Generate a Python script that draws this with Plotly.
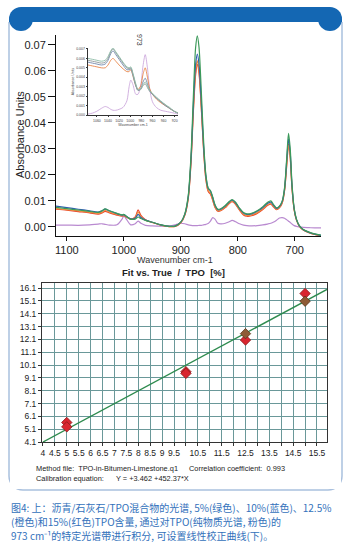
import plotly.graph_objects as go

W, H = 354, 556

# ---------------- DATA ----------------
# Main spectrum (wavenumber cm-1, absorbance)
wavenumber = [1119, 1100, 1080, 1060, 1045, 1038, 1033, 1025, 1012, 1003, 1000, 995, 988, 980, 975, 970,
              962, 950, 935, 920, 910, 900, 893, 887, 882, 878, 874, 871, 868, 864, 860, 856, 852, 848,
              844, 840, 835, 830, 822, 815, 810, 804, 797, 790, 784, 776, 766, 756, 748, 742, 737, 732,
              727, 722, 718, 714, 711, 708, 705, 701, 697, 692, 685, 675, 665, 654]

abs_5pct_green = [0.0075, 0.0070, 0.0065, 0.0060, 0.0056, 0.0062, 0.0069, 0.0062, 0.0052, 0.0046, 0.0048, 0.0040,
                  0.0030, 0.0030, 0.0038, 0.0032, 0.0025, 0.0018, 0.0008, 0.0002, 0.0003, 0.0018, 0.0050, 0.0120,
                  0.0280, 0.0500, 0.0690, 0.0735, 0.0690, 0.0520, 0.0330, 0.0200, 0.0150, 0.0140, 0.0115, 0.0085,
                  0.0068, 0.0070, 0.0082, 0.0098, 0.0105, 0.0095, 0.0072, 0.0055, 0.0050, 0.0052, 0.0062, 0.0078,
                  0.0094, 0.0100, 0.0085, 0.0073, 0.0080, 0.0100, 0.0150, 0.0270, 0.0360, 0.0300, 0.0170, 0.0070,
                  0.0030, 0.0005, -0.0010, -0.0020, -0.0027, -0.0032]

abs_10pct_blue = [0.0080, 0.0074, 0.0068, 0.0062, 0.0057, 0.0062, 0.0068, 0.0061, 0.0051, 0.0045, 0.0047, 0.0040,
                  0.0031, 0.0033, 0.0048, 0.0036, 0.0026, 0.0018, 0.0008, 0.0002, 0.0003, 0.0018, 0.0048, 0.0115,
                  0.0265, 0.0465, 0.0625, 0.0665, 0.0625, 0.0480, 0.0310, 0.0195, 0.0148, 0.0138, 0.0112, 0.0083,
                  0.0066, 0.0068, 0.0080, 0.0096, 0.0103, 0.0093, 0.0070, 0.0053, 0.0048, 0.0050, 0.0060, 0.0075,
                  0.0090, 0.0095, 0.0082, 0.0071, 0.0078, 0.0098, 0.0145, 0.0260, 0.0340, 0.0285, 0.0162, 0.0068,
                  0.0028, 0.0004, -0.0011, -0.0021, -0.0028, -0.0033]

abs_12p5pct_orange = [0.0070, 0.0066, 0.0062, 0.0057, 0.0052, 0.0057, 0.0063, 0.0057, 0.0048, 0.0043, 0.0045, 0.0038,
                      0.0030, 0.0035, 0.0058, 0.0040, 0.0026, 0.0017, 0.0007, 0.0001, 0.0002, 0.0017, 0.0046, 0.0110,
                      0.0255, 0.0450, 0.0600, 0.0640, 0.0600, 0.0460, 0.0300, 0.0185, 0.0140, 0.0130, 0.0105, 0.0078,
                      0.0062, 0.0064, 0.0076, 0.0092, 0.0099, 0.0089, 0.0066, 0.0049, 0.0044, 0.0046, 0.0055, 0.0070,
                      0.0085, 0.0090, 0.0078, 0.0068, 0.0075, 0.0094, 0.0140, 0.0245, 0.0315, 0.0265, 0.0152, 0.0064,
                      0.0026, 0.0003, -0.0012, -0.0022, -0.0029, -0.0034]

abs_15pct_red = [0.0068, 0.0064, 0.0059, 0.0054, 0.0049, 0.0054, 0.0060, 0.0054, 0.0045, 0.0041, 0.0043, 0.0037,
                 0.0030, 0.0038, 0.0066, 0.0044, 0.0027, 0.0017, 0.0007, 0.0001, 0.0002, 0.0016, 0.0045, 0.0108,
                 0.0250, 0.0440, 0.0585, 0.0625, 0.0590, 0.0455, 0.0295, 0.0182, 0.0136, 0.0126, 0.0102, 0.0075,
                 0.0060, 0.0062, 0.0074, 0.0090, 0.0097, 0.0087, 0.0064, 0.0046, 0.0041, 0.0043, 0.0052, 0.0067,
                 0.0082, 0.0087, 0.0076, 0.0066, 0.0073, 0.0092, 0.0138, 0.0240, 0.0320, 0.0268, 0.0153, 0.0064,
                 0.0026, 0.0003, -0.0012, -0.0022, -0.0029, -0.0034]

abs_tpo_pink = [0.0007, 0.0007, 0.0006, 0.0008, 0.0011, 0.0012, 0.0010, 0.0007, 0.0008, 0.0030, 0.0042, 0.0028,
                0.0008, 0.0012, 0.0022, 0.0014, 0.0006, 0.0004, 0.0003, 0.0004, 0.0008, 0.0014, 0.0012, 0.0008,
                0.0006, 0.0005, 0.0005, 0.0005, 0.0006, 0.0006, 0.0008, 0.0010, 0.0013, 0.0022, 0.0036, 0.0030,
                0.0014, 0.0012, 0.0014, 0.0020, 0.0025, 0.0020, 0.0012, 0.0007, 0.0005, 0.0004, 0.0005, 0.0008,
                0.0011, 0.0014, 0.0019, 0.0026, 0.0034, 0.0036, 0.0033, 0.0027, 0.0022, 0.0017, 0.0011, 0.0005,
                0.0002, 0.0000, -0.0002, -0.0003, -0.0004, -0.0004]

main_xticks = [1100, 1000, 900, 800, 700]
main_yticks = [0.00, 0.01, 0.02, 0.03, 0.04, 0.05, 0.06, 0.07]

# Inset spectrum (zoom on the 973 cm-1 band)
inset_wavenumber = [1076, 1068, 1060, 1052, 1045, 1040, 1035, 1031, 1026, 1020, 1013, 1006, 1002, 999, 995, 990,
                    986, 981, 977, 973, 969, 965, 960, 953, 945, 937, 929, 921, 914]
inset_gray = [0.0058, 0.0057, 0.0056, 0.0055, 0.0056, 0.0060, 0.0067, 0.0070, 0.0066, 0.0061, 0.0055, 0.0050,
              0.0049, 0.0050, 0.0043, 0.0032, 0.0026, 0.0027, 0.0031, 0.0033, 0.0029, 0.0025, 0.0022, 0.0018,
              0.0014, 0.0011, 0.0007, 0.0004, 0.0002]
inset_green = [0.0060, 0.0059, 0.0058, 0.0057, 0.0058, 0.0062, 0.0068, 0.0071, 0.0067, 0.0062, 0.0056, 0.0051,
               0.0050, 0.0051, 0.0044, 0.0033, 0.0027, 0.0028, 0.0032, 0.0035, 0.0031, 0.0026, 0.0023, 0.0019,
               0.0015, 0.0011, 0.0008, 0.0004, 0.0002]
inset_blue = [0.0056, 0.0055, 0.0054, 0.0053, 0.0054, 0.0058, 0.0065, 0.0068, 0.0064, 0.0059, 0.0053, 0.0048,
              0.0048, 0.0049, 0.0042, 0.0031, 0.0026, 0.0028, 0.0035, 0.0039, 0.0033, 0.0026, 0.0022, 0.0018,
              0.0014, 0.0010, 0.0007, 0.0004, 0.0002]
inset_orange = [0.0053, 0.0052, 0.0051, 0.0050, 0.0050, 0.0053, 0.0058, 0.0060, 0.0057, 0.0053, 0.0049, 0.0046,
                0.0046, 0.0048, 0.0041, 0.0031, 0.0027, 0.0031, 0.0043, 0.0050, 0.0040, 0.0028, 0.0022, 0.0017,
                0.0013, 0.0010, 0.0007, 0.0004, 0.0002]
inset_tpo = [0.0001, 0.0002, 0.0004, 0.0007, 0.0009, 0.0008, 0.0006, 0.0005, 0.0005, 0.0006, 0.0008, 0.0015,
             0.0030, 0.0037, 0.0032, 0.0022, 0.0022, 0.0032, 0.0052, 0.0064, 0.0050, 0.0028, 0.0014, 0.0008,
             0.0005, 0.0004, 0.0003, 0.0002, 0.0001]
inset_xticks = [1060, 1040, 1020, 1000, 980, 960, 940, 920]
inset_yticks = [0.000, 0.001, 0.002, 0.003, 0.004, 0.005, 0.006, 0.007]

# Calibration: fit vs true TPO [%]
true_red = [5, 5, 10, 10, 12.5, 15]
fit_red = [5.62, 5.28, 9.58, 9.45, 12.05, 15.68]
true_brown = [12.5, 15]
fit_brown = [12.55, 15.08]
line_x = [4.0, 15.92]
line_y = [4.1, 16.0]
cal_xtickvals = [4, 4.5, 5, 5.5, 6, 6.5, 7, 7.5, 8, 8.5, 9, 9.5, 10, 10.5, 11, 11.5, 12, 12.5, 13, 13.5, 14,
                 14.5, 15, 15.5]
cal_xticktext = ["4", "4.5", "5", "5.5", "6", "6.5", "7", "7.5", "8", "8.5", "9", "9.5", " ", "10.5", " ", "11.5",
                 " ", "12.5", " ", "13.5", " ", "14.5", " ", "15.5"]
cal_ytickvals = [4.1, 5.1, 6.1, 7.1, 8.1, 9.1, 10.1, 11.1, 12.1, 13.1, 14.1, 15.1, 16.1]
cal_yticktext = ["4.1", "5.1", "6.1", "7.1", "8.1", "9.1", "10.1", "11.1", "12.1", "13.1", "14.1", "15.1", "16.1"]

caption_lines = [
    "图4: 上：沥青/石灰石/TPO混合物的光谱, 5%(绿色)、10%(蓝色)、12.5%",
    "(橙色)和15%(红色)TPO含量, 通过对TPO(纯物质光谱, 粉色)的",
    "973 cm⁻¹的特定光谱带进行积分, 可设置线性校正曲线(下)。",
]

# ---------------- HELPERS ----------------
def px(x):
    return x / W

def py(y):
    return 1 - y / H

SANS = "Liberation Sans, Arial, sans-serif"
CJK = "Noto Sans CJK SC"

fig = go.Figure()

# Main spectrum traces
main_series = [
    (abs_tpo_pink, "#b98ad0", "TPO"),
    (abs_15pct_red, "#e8432c", "15%"),
    (abs_12p5pct_orange, "#f08c3a", "12.5%"),
    (abs_10pct_blue, "#2f5fae", "10%"),
    (abs_5pct_green, "#3c9a5a", "5%"),
]
for ys, col, name in main_series:
    fig.add_trace(go.Scatter(x=wavenumber, y=ys, mode="lines", name=name,
                             line=dict(color=col, width=1.2, shape="spline", smoothing=0.8),
                             xaxis="x", yaxis="y", showlegend=False))

# Inset traces
inset_series = [
    (inset_tpo, "#cda9dc"),
    (inset_orange, "#e8864a"),
    (inset_blue, "#7088ab"),
    (inset_gray, "#8f9999"),
    (inset_green, "#8cbba6"),
]
for ys, col in inset_series:
    fig.add_trace(go.Scatter(x=inset_wavenumber, y=ys, mode="lines",
                             line=dict(color=col, width=0.9, shape="spline", smoothing=0.8),
                             xaxis="x3", yaxis="y3", showlegend=False))

# Calibration traces
fig.add_trace(go.Scatter(x=line_x, y=line_y, mode="lines", line=dict(color="#2e8b4e", width=1.4),
                         xaxis="x2", yaxis="y2", showlegend=False))
fig.add_trace(go.Scatter(x=true_red, y=fit_red, mode="markers",
                         marker=dict(symbol="diamond", size=8, color="#d9262f",
                                     line=dict(color="#8a1a1a", width=0.8)),
                         xaxis="x2", yaxis="y2", showlegend=False))
fig.add_trace(go.Scatter(x=true_brown, y=fit_brown, mode="markers",
                         marker=dict(symbol="diamond", size=8, color="#8e5b35",
                                     line=dict(color="#5a3a20", width=0.8)),
                         xaxis="x2", yaxis="y2", showlegend=False))

axis_common = dict(showgrid=False, zeroline=False, showline=True, linecolor="#111", linewidth=1,
                   ticks="outside", tickcolor="#111", automargin=False)

fig.update_layout(
    template="none",
    width=W, height=H, margin=dict(l=0, r=0, t=0, b=0, pad=0), autosize=False,
    paper_bgcolor="white", plot_bgcolor="rgba(0,0,0,0)",
    font=dict(family=SANS, color="#222"),
    xaxis=dict(domain=[px(56), px(321)], range=[1119, 654], tickvals=main_xticks, ticklen=4,
               tickfont=dict(size=11, color="#222"), anchor="y", **axis_common),
    yaxis=dict(domain=[py(236), py(35)], range=[-0.0035, 0.0738], tickvals=main_yticks, tickformat=".2f",
               ticklen=7, tickfont=dict(size=11, color="#222"), anchor="x", **axis_common),
    xaxis3=dict(domain=[px(88), px(178)], range=[1076, 914], tickvals=inset_xticks, ticklen=1.5,
                tickfont=dict(size=3.5, color="#444"), anchor="y3", tickwidth=0.5, tickangle=0,
                title=dict(text="Wavenumber cm-1", font=dict(size=3.5, color="#444"), standoff=1),
                showgrid=False, zeroline=False, showline=True, linecolor="#333", linewidth=0.7,
                ticks="outside", tickcolor="#333", automargin=False),
    yaxis3=dict(domain=[py(115), py(48)], range=[0, 0.0071], tickvals=inset_yticks, tickformat=".3f",
                ticklen=1.5, tickfont=dict(size=3.5, color="#444"), anchor="x3", tickwidth=0.5,
                title=dict(text="Absorbance Units", font=dict(size=3.5, color="#444"), standoff=1),
                showgrid=False, zeroline=False, showline=True, linecolor="#333", linewidth=0.7,
                ticks="outside", tickcolor="#333", automargin=False),
    xaxis2=dict(domain=[px(42), px(327)], range=[3.96, 15.92], tickvals=cal_xtickvals, ticktext=cal_xticktext,
                tickangle=0,
                showgrid=True, gridcolor="#6a9899", gridwidth=1.3, zeroline=False, showline=True,
                linecolor="#333", linewidth=1, mirror=True, ticks="outside", ticklen=3, tickcolor="#333",
                tickfont=dict(size=8.5, color="#222"), anchor="y2", automargin=False),
    yaxis2=dict(domain=[py(442), py(283)], range=[4.1, 16.5], tickvals=cal_ytickvals, ticktext=cal_yticktext,
                showgrid=True, gridcolor="#6a9899", gridwidth=1.3, zeroline=False, showline=True,
                linecolor="#333", linewidth=1, mirror=True, ticks="outside", ticklen=3, tickcolor="#333",
                tickfont=dict(size=8.5, color="#222"), anchor="x2", automargin=False),
)

# Outer rounded box + header (built from rects, circles and lines in paper coords)
L, R, T, B, r = 9, 342, 7, 490, 12
HB = 22  # header bottom
BLUE = "#1467b3"
EDGE = "#a9c0de"

def rect(x0, y0, x1, y1, fill, layer="below"):
    return dict(type="rect", xref="paper", yref="paper", x0=px(x0), x1=px(x1), y0=py(y1), y1=py(y0),
                fillcolor=fill, line=dict(width=0), layer=layer)

def circle(cx, cy, rad, fill=None, edge=None, layer="below"):
    d = dict(type="circle", xref="paper", yref="paper", x0=px(cx - rad), x1=px(cx + rad),
             y0=py(cy + rad), y1=py(cy - rad), layer=layer)
    d["fillcolor"] = fill if fill else "rgba(0,0,0,0)"
    d["line"] = dict(width=1.5, color=edge) if edge else dict(width=0)
    return d

def seg(x0, y0, x1, y1, col, w=1.5):
    return dict(type="line", xref="paper", yref="paper", x0=px(x0), x1=px(x1), y0=py(y0), y1=py(y1),
                line=dict(color=col, width=w), layer="below")

rb = 14
shapes = [
    circle(L + rb, B - rb, rb, edge=EDGE),
    circle(R - rb, B - rb, rb, edge=EDGE),
    rect(L + 1, HB, R - 1, B - 1, "white"),
    rect(L + rb, B - 3, R - rb, B + 3, "white"),
    rect(L - 3, HB, L + 3, B - rb, "white"),
    rect(R - 3, HB, R + 3, B - rb, "white"),
    seg(L, HB, L, B - rb, EDGE),
    seg(R, HB, R, B - rb, EDGE),
    seg(L + rb, B, R - rb, B, EDGE),
    circle(L + r, T + r, r, fill=BLUE),
    circle(R - r, T + r, r, fill=BLUE),
    rect(L + r, T, R - r, HB, BLUE),
    rect(L, T + r, R, HB, BLUE),
]
fig.update_layout(shapes=shapes)

ann = []
def text(t, x, y, size, color="#222", family=SANS, xanchor="center", yanchor="middle", angle=0, align="center"):
    ann.append(dict(text=t, x=px(x), y=py(y), xref="paper", yref="paper", showarrow=False,
                    xanchor=xanchor, yanchor=yanchor, textangle=angle, align=align,
                    font=dict(size=size, color=color, family=family)))

text("Absorbance Units", 20, 135, 11, angle=-90)
text("Wavenumber cm-1", 175, 260, 9, color="#333")
text("<b>Fit vs. True  /  TPO  [%]</b>", 173, 272, 9.5)
text("973", 140, 40, 7, color="#333", angle=90)
text("Method file:  TPO-in-Bitumen-Limestone.q1", 34, 468, 7.4, xanchor="left")
text("Correlation coefficient:  0.993", 187, 468, 7.4, xanchor="left")
text("Calibration equation:      Y = +3.462 +452.37*X", 34, 478, 7.4, xanchor="left")
for line, yy in zip(caption_lines, [507, 521, 535]):
    text(line, 9, yy, 10, color="#3271bb", family=CJK, xanchor="left")
fig.update_layout(annotations=ann)

fig.write_html("out.html")
